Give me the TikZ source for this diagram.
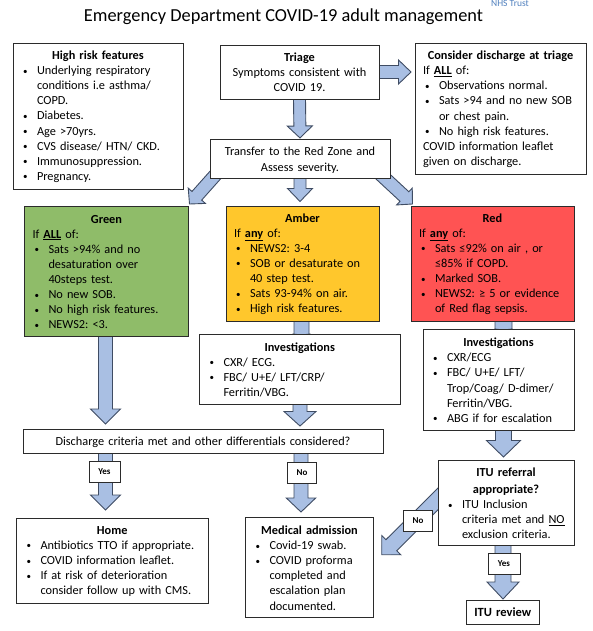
\documentclass[tikz,border=0pt]{standalone}
\usepackage{fontspec}
\setmainfont{Carlito}
\usetikzlibrary{calc,backgrounds}
\definecolor{boxline}{HTML}{2B2B2B}
\definecolor{arrowline}{HTML}{3F4C63}
\definecolor{arrowfill}{HTML}{A9BFE3}
\definecolor{greenfill}{HTML}{8FBC69}
\definecolor{amberfill}{HTML}{FFC72C}
\definecolor{redfill}{HTML}{FF5353}
\definecolor{trustblue}{HTML}{4F7FBD}
\frenchspacing
% list item, line break inside it and box heading
\newcommand{\brk}{\hfil\break}
\newcommand{\bul}[1]{\par\hangindent=16pt\hangafter=0\noindent\llap{\makebox[16pt][l]{\hspace{2pt}\raisebox{0.5pt}{\fontsize{9}{9}\selectfont\textbullet}}}#1\par}
\newcommand{\hd}[1]{\par{\centering\textbf{#1}\par}}
% half width, half head width, head length, tail, tip
\newcommand{\blockarrow}[5]{%
  \coordinate (tail) at #4;
  \coordinate (tip) at #5;
  \coordinate (neck) at ($(tip)!#3!(tail)$);
  \draw[blockline] ($(tail)!#1!90:(tip)$) -- ($(neck)!#1!90:(tip)$) -- ($(neck)!#2!90:(tip)$) -- (tip)
    -- ($(neck)!#2!-90:(tip)$) -- ($(neck)!#1!-90:(tip)$) -- ($(tail)!#1!-90:(tip)$) -- cycle;}
\tikzset{boxed/.style 2 args={draw=boxline,fill=white,line width=0.9pt,anchor=north west,outer sep=0pt,
  inner xsep=8pt,inner ysep=0pt,text width=#1pt-16pt,minimum height=#2pt,align=left,font=\fontsize{12.3}{15.1}\selectfont},
  listed/.style={execute at end node={\par\vspace{5pt}}}}
\begin{document}
\begin{tikzpicture}[x=1pt,y=-1pt]
\tikzstyle{blockline}=[draw=arrowline,fill=arrowfill,line width=0.9pt,line join=miter]
\tikzstyle{tag}=[draw=boxline,fill=white,line width=0.9pt,minimum width=31pt,minimum height=21pt,inner sep=0pt,anchor=north west,font=\fontsize{9}{11}\selectfont\bfseries]
\useasboundingbox (0,0) rectangle (593,631);
%
\node (title) at (283.5,17) {\fontsize{18.35}{22}\selectfont Emergency Department COVID-19 adult management};
\node[text=trustblue,inner sep=0pt,anchor=base,font=\fontsize{9.5}{10}\selectfont] (trust) at (510,6.8) {NHS Trust};
%
\node[boxed={170}{146},listed] (risk) at (13,43) {\hd{High risk features}
  \bul{Underlying respiratory\brk conditions i.e asthma/\brk COPD.}
  \bul{Diabetes.}
  \bul{Age >70yrs.}
  \bul{CVS disease/ HTN/ CKD.}
  \bul{Immunosuppression.}
  \bul{Pregnancy.}};
\node[boxed={159}{54},align=center] (triage) at (220,45) {\textbf{Triage}\\Symptoms consistent with\\COVID 19.};
\node[boxed={171}{131},listed] (leave) at (415,43) {\hd{Consider discharge at triage}
  If \underline{\textbf{ALL}} of:
  \bul{Observations normal.}
  \bul{Sats >94 and no new SOB\brk or chest pain.}
  \bul{No high risk features.}
  \noindent COVID information leaflet\\given on discharge.};
\node[boxed={180}{39},align=center,yshift=0pt] (zone) at (210,139) {\rule{0pt}{12pt}Transfer to the Red Zone and\\Assess severity.};
%
\node[boxed={164}{130},listed,fill=greenfill] (green) at (24.5,206) {\hd{Green}
  If \underline{\textbf{ALL}} of:
  \bul{Sats >94\% and no\brk desaturation over\brk 40steps test.}
  \bul{No new SOB.}
  \bul{No high risk features.}
  \bul{NEWS2: <3.}};
\node[boxed={153}{115},listed,fill=amberfill] (amber) at (226,206) {\hd{Amber}
  If \underline{\textbf{any}} of:
  \bul{NEWS2: 3-4}
  \bul{SOB or desaturate on\brk 40 step test.}
  \bul{Sats 93-94\% on air.}
  \bul{High risk features.}};
\node[boxed={163}{115},listed,fill=redfill] (red) at (411,206) {\hd{Red}
  If \underline{\textbf{any}} of:
  \bul{Sats ≤92\% on air , or\brk ≤85\% if COPD.}
  \bul{Marked SOB.}
  \bul{NEWS2: ≥ 5 or evidence\brk of Red flag sepsis.}};
%
\node[boxed={200.5}{70},listed] (invamber) at (199.5,334) {\hd{Investigations}
  \bul{CXR/ ECG.}
  \bul{FBC/ U+E/ LFT/CRP/\brk Ferritin/VBG.}};
\node[boxed={151}{101},listed] (invred) at (423,329) {\hd{Investigations}
  \bul{CXR/ECG}
  \bul{FBC/ U+E/ LFT/\brk Trop/Coag/ D-dimer/\brk Ferritin/VBG.}
  \bul{ABG if for escalation}};
\node[boxed={360}{24},align=center] (criteria) at (23,429) {\rule{0pt}{11pt}Discharge criteria met and other differentials considered?};
%
\node[boxed={191.5}{85},listed] (home) at (16.5,518) {\hd{Home}
  \bul{Antibiotics TTO if appropriate.}
  \bul{COVID information leaflet.}
  \bul{If at risk of deterioration\brk consider follow up with CMS.}};
\node[boxed={128}{100.5},listed] (admit) at (245.5,517) {\hd{Medical admission}
  \bul{Covid-19 swab.}
  \bul{COVID proforma\brk completed and\brk escalation plan\brk documented.}};
\node[boxed={136}{85},listed] (refer) at (438,460) {\hd{ITU referral\\[2pt]appropriate?}
  \bul{ITU Inclusion\brk criteria met and \underline{NO}\brk exclusion criteria.}};
\node[boxed={73.5}{23.5},align=center,font=\fontsize{12.5}{15}\selectfont\bfseries] (review) at (466,600.5) {ITU review};
%
\node[tag] (yes1) at (88.5,460.5) {Yes};
\node[tag,minimum width=29pt] (no1) at (287,461.5) {No};
\node[tag,minimum width=29pt] (no2) at (403,509.5) {No};
\node[tag,minimum width=32pt] (yes2) at (487.5,552.5) {Yes};
%
\begin{scope}[on background layer]
  \blockarrow{6.5pt}{12pt}{12.5pt}{(triage.east |- 0,72)}{($(leave.west |- 0,72)+(-4,0)$)}
  \blockarrow{6pt}{12.5pt}{12pt}{(triage.south)}{($(zone.north)+(0,-1)$)}
  \blockarrow{6pt}{12.5pt}{13pt}{(zone.south)}{(300,201.5)}
  \blockarrow{6.5pt}{11.5pt}{11pt}{(218,172)}{(189.5,204)}
  \blockarrow{6.5pt}{11.5pt}{11pt}{(378,172)}{(412.5,204)}
  \blockarrow{7pt}{15pt}{15pt}{(105.5,336)}{(105.5,424)}
  \blockarrow{7.5pt}{9pt}{1pt}{(301.5,321)}{(301.5,335)}
  \blockarrow{7pt}{16pt}{14.5pt}{(300,404)}{(300,426)}
  \blockarrow{8.5pt}{9pt}{1pt}{(503.5,321)}{(503.5,330)}
  \blockarrow{8pt}{17pt}{16.5pt}{(503.5,430)}{(503.5,457)}
  \blockarrow{7pt}{15pt}{15pt}{(105.5,453)}{(105.5,510)}
  \blockarrow{7pt}{14.7pt}{14pt}{(301,453)}{(301,512)}
  \blockarrow{7.7pt}{13.5pt}{13.5pt}{(446,491)}{(381.7,554.7)}
  \blockarrow{8pt}{16pt}{17pt}{(503,544)}{(503,599)}
\end{scope}
\end{tikzpicture}
\end{document}
